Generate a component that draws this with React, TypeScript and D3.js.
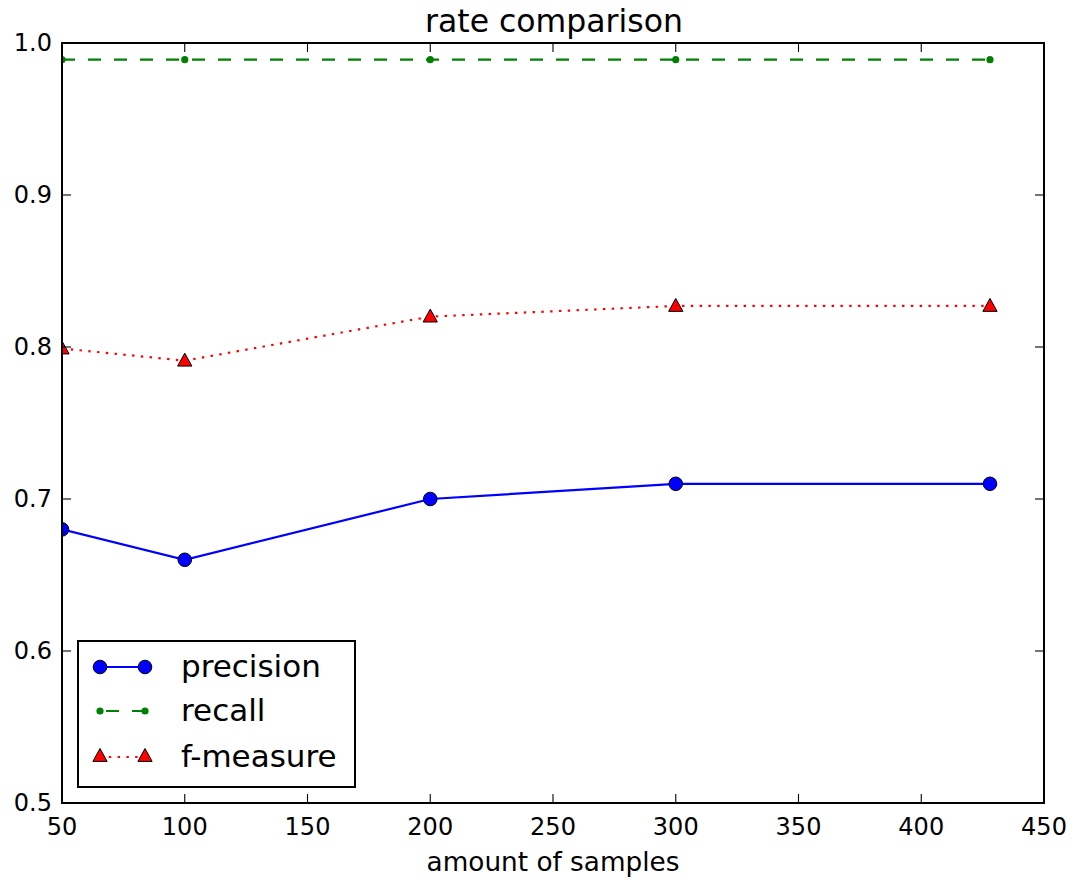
import React from "react";
import * as d3 from "d3";

const samples = [50, 100, 200, 300, 428];
const precision = [0.68, 0.66, 0.7, 0.71, 0.71];
const recall = [0.989, 0.989, 0.989, 0.989, 0.989];
const fmeasure = [0.799, 0.791, 0.82, 0.827, 0.827];
const xTicks = [50, 100, 150, 200, 250, 300, 350, 400, 450];
const yTicks = [0.5, 0.6, 0.7, 0.8, 0.9, 1.0];

const W = 1075, H = 883;
const L = 62, R = 1044, T = 43, B = 803;
const FONT = "DejaVu Sans, sans-serif";

export default function App() {
  const x = d3.scaleLinear().domain([50, 450]).range([L, R]);
  const y = d3.scaleLinear().domain([0.5, 1.0]).range([B, T]);
  const line = (vals: number[]) =>
    d3.line<number>().x((_, i) => x(samples[i])).y((v) => y(v))(vals) || "";
  const tri = (cx: number, cy: number, s = 7.5) =>
    `M${cx},${cy - s} L${cx + s * 0.95},${cy + s * 0.72} L${cx - s * 0.95},${cy + s * 0.72} Z`;

  return (
    <svg width={W} height={H} style={{ position: "absolute", left: 0, top: 0, background: "#fff" }} fontFamily={FONT}>
      <defs>
        <clipPath id="plot">
          <rect x={L} y={T} width={R - L} height={B - T} />
        </clipPath>
      </defs>
      <rect x={0} y={0} width={W} height={H} fill="#fff" />
      <g clipPath="url(#plot)">
        <path d={line(precision)} fill="none" stroke="#0000ff" strokeWidth={2.2} />
        <path d={line(recall)} fill="none" stroke="#008000" strokeWidth={2.2} strokeDasharray="13,13" />
        <path d={line(fmeasure)} fill="none" stroke="#ff0000" strokeWidth={2.2} strokeDasharray="2.4,6.4" />
        {samples.map((s, i) => (
          <circle key={"p" + i} cx={x(s)} cy={y(precision[i])} r={6.8} fill="#0000ff" stroke="#000" strokeWidth={1} />
        ))}
        {samples.map((s, i) => (
          <circle key={"r" + i} cx={x(s)} cy={y(recall[i])} r={3.6} fill="#008000" />
        ))}
        {samples.map((s, i) => (
          <path key={"f" + i} d={tri(x(s), y(fmeasure[i]))} fill="#ff0000" stroke="#000" strokeWidth={1} />
        ))}
      </g>
      {xTicks.map((t) => (
        <g key={"xt" + t}>
          <line x1={x(t)} x2={x(t)} y1={B} y2={B - 9} stroke="#000" strokeWidth={1.1} />
          <line x1={x(t)} x2={x(t)} y1={T} y2={T + 9} stroke="#000" strokeWidth={1.1} />
          <text x={x(t)} y={835} fontSize={24} textAnchor="middle" fill="#000">{t}</text>
        </g>
      ))}
      {yTicks.map((t) => (
        <g key={"yt" + t}>
          <line x1={L} x2={L + 9} y1={y(t)} y2={y(t)} stroke="#000" strokeWidth={1.1} />
          <line x1={R} x2={R - 9} y1={y(t)} y2={y(t)} stroke="#000" strokeWidth={1.1} />
          <text x={52} y={y(t) + 8} fontSize={24} textAnchor="end" fill="#000">{t.toFixed(1)}</text>
        </g>
      ))}
      <rect x={L} y={T} width={R - L} height={B - T} fill="none" stroke="#000" strokeWidth={2} />
      <text x={(L + R) / 2 + 1} y={32} fontSize={31.5} textAnchor="middle" fill="#000">rate comparison</text>
      <text x={(L + R) / 2 } y={871} fontSize={26.3} textAnchor="middle" fill="#000">amount of samples</text>
      <g>
        <rect x={78} y={641} width={277} height={146} fill="#fff" stroke="#000" strokeWidth={2} />
        <line x1={100} x2={145} y1={667} y2={667} stroke="#0000ff" strokeWidth={2.2} />
        <circle cx={100} cy={667} r={6.8} fill="#0000ff" stroke="#000" strokeWidth={1} />
        <circle cx={145} cy={667} r={6.8} fill="#0000ff" stroke="#000" strokeWidth={1} />
        <text x={181} y={677} fontSize={31} fill="#000">precision</text>
        <line x1={100} x2={145} y1={711} y2={711} stroke="#008000" strokeWidth={2.2} strokeDasharray="13,13" strokeDashoffset={-6} />
        <circle cx={100} cy={711} r={3.6} fill="#008000" />
        <circle cx={145} cy={711} r={3.6} fill="#008000" />
        <text x={181} y={721} fontSize={31} fill="#000">recall</text>
        <line x1={100} x2={145} y1={757} y2={757} stroke="#ff0000" strokeWidth={2.2} strokeDasharray="2.4,6.4" />
        <path d={tri(100, 756)} fill="#ff0000" stroke="#000" strokeWidth={1} />
        <path d={tri(145, 756)} fill="#ff0000" stroke="#000" strokeWidth={1} />
        <text x={181} y={767} fontSize={31} fill="#000">f-measure</text>
      </g>
    </svg>
  );
}
